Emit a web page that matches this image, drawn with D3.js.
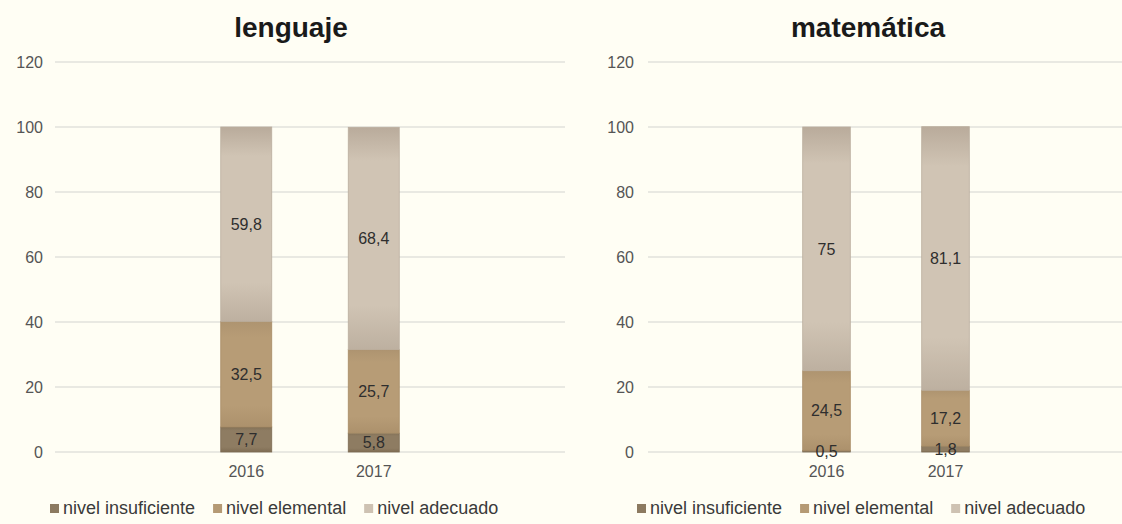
<!DOCTYPE html>
<html><head><meta charset="utf-8">
<script src="https://cdn.jsdelivr.net/npm/d3@7/dist/d3.min.js"></script>
<style>
html,body{margin:0;padding:0;background:#FFFEF4;}
svg{display:block;font-family:"Liberation Sans",Arial,sans-serif;}
</style></head><body>
<svg id="c" width="1122" height="524"></svg>
<script>
const years = ["2016", "2017"];
const seriesNames = ["nivel insuficiente", "nivel elemental", "nivel adecuado"];
const lenguaje = { insuficiente: [7.7, 5.8], elemental: [32.5, 25.7], adecuado: [59.8, 68.4] };
const matematica = { insuficiente: [0.5, 1.8], elemental: [24.5, 17.2], adecuado: [75, 81.1] };
const yTicks = [0, 20, 40, 60, 80, 100, 120];
const titles = ["lenguaje", "matemática"];

const colors = ["#8C7A60", "#B59A74", "#CEC2B2"];
const edge = ["#7D6C54", "#A88C66", "#BBAE9E"];
const svg = d3.select("#c");
const defs = svg.append("defs");
const gradSpec = [
  ["#837157", "#8E7C62", "#8E7C62", "#7E6C53"],
  ["#AE9470", "#B79C76", "#B79C76", "#AC916C"],
  ["#B9AB9B", "#D0C4B4", "#D0C4B4", "#BDB0A0"]
];
gradSpec.forEach((g, i) => {
  const lg = defs.append("linearGradient").attr("id", "g" + i).attr("x1", 0).attr("x2", 0).attr("y1", 0).attr("y2", 1);
  lg.append("stop").attr("offset", "0%").attr("stop-color", g[0]);
  lg.append("stop").attr("offset", "15%").attr("stop-color", g[1]);
  lg.append("stop").attr("offset", "80%").attr("stop-color", g[2]);
  lg.append("stop").attr("offset", "100%").attr("stop-color", g[3]);
});

const panels = [
  { data: lenguaje, title: titles[0], x0: 55, x1: 565, labelX: 43, titleX: 291, legendX: 50 },
  { data: matematica, title: titles[1], x0: 648, x1: 1124, labelX: 634, titleX: 868, legendX: 637 }
];
const y = d3.scaleLinear().domain([0, 120]).range([452, 62]);
const fmt = v => String(v).replace(".", ",");

panels.forEach(p => {
  const g = svg.append("g");
  const x = d3.scaleBand().domain(["", ...years, " "]).range([p.x0, p.x1]).paddingInner(0.6).paddingOuter(0.3);
  g.selectAll("line.grid").data(yTicks).join("line")
    .attr("x1", p.x0).attr("x2", p.x1).attr("y1", d => y(d)).attr("y2", d => y(d))
    .attr("stroke", "#E2E2DC").attr("stroke-width", 1.3);
  const ya = d3.axisLeft(y).tickValues(yTicks).tickSize(0).tickPadding(0);
  const yg = g.append("g").attr("transform", `translate(${p.labelX},0)`).call(ya);
  yg.select(".domain").remove();
  yg.selectAll("text").attr("font-size", 16).attr("fill", "#555").attr("font-family", "Liberation Sans, Arial, sans-serif");
  const rows = years.map((yr, i) => ({ year: yr, insuficiente: p.data.insuficiente[i], elemental: p.data.elemental[i], adecuado: p.data.adecuado[i] }));
  const keys = ["insuficiente", "elemental", "adecuado"];
  const stack = d3.stack().keys(keys)(rows);
  const bw = x.bandwidth();
  stack.forEach((s, si) => {
    g.selectAll(null).data(s).join("rect")
      .attr("x", d => x(d.data.year)).attr("width", bw)
      .attr("y", d => y(d[1])).attr("height", d => y(d[0]) - y(d[1]))
      .attr("fill", `url(#g${si})`).attr("stroke", edge[si]).attr("stroke-width", 0.8);
  });
  stack.forEach((s, si) => {
    g.selectAll(null).data(s).join("text")
      .attr("x", d => x(d.data.year) + bw / 2)
      .attr("y", d => (y(d[0]) + y(d[1])) / 2)
      .attr("dy", "0.36em").attr("text-anchor", "middle")
      .attr("font-size", 16).attr("fill", "#2e2e2e")
      .text(d => fmt(d.data[keys[si]]));
  });
  const xa = d3.axisBottom(x).tickValues(years).tickSize(0).tickPadding(0);
  const xg = g.append("g").attr("transform", "translate(0,466)").call(xa);
  xg.select(".domain").remove();
  xg.selectAll("text").attr("font-size", 16).attr("fill", "#555").attr("dy", "0.71em").attr("font-family", "Liberation Sans, Arial, sans-serif");
  g.append("text").attr("x", p.titleX).attr("y", 37).attr("text-anchor", "middle")
    .attr("font-size", 28).attr("font-weight", "bold").attr("fill", "#1a1a1a").text(p.title);
  let lx = p.legendX;
  seriesNames.forEach((n, i) => {
    g.append("rect").attr("x", lx).attr("y", 504).attr("width", 9).attr("height", 9).attr("fill", colors[i]);
    const t = g.append("text").attr("x", lx + 13).attr("y", 514).attr("font-size", 18).attr("fill", "#3a3a3a").text(n);
    lx += 13 + t.node().getComputedTextLength() + 18;
  });
});
</script>
</body></html>
